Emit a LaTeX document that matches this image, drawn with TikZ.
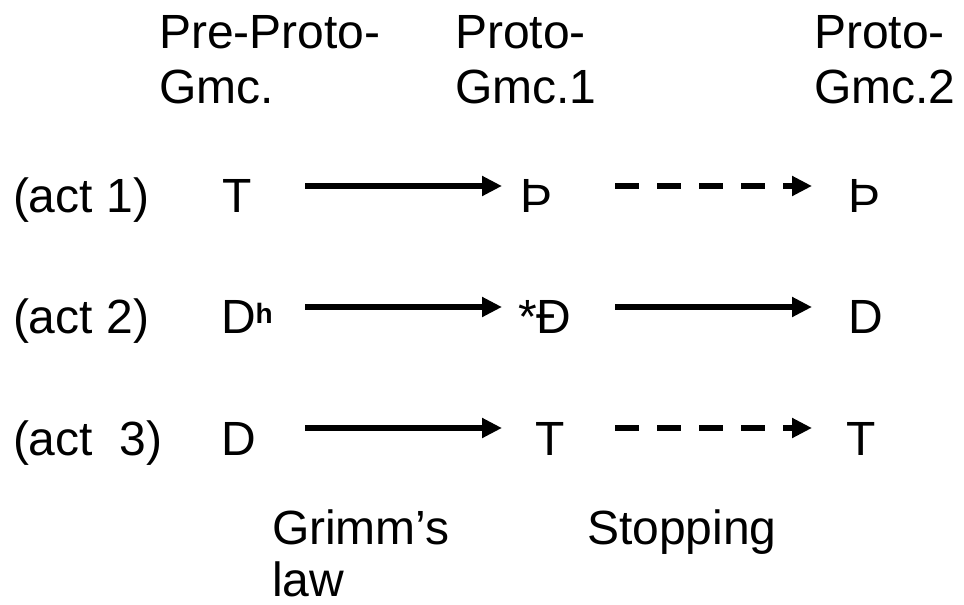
\documentclass[tikz,border=0pt]{standalone}
\usepackage{fontspec}
\setmainfont{Liberation Sans}
\usetikzlibrary{arrows.meta}
\begin{document}
\begin{tikzpicture}[x=1pt,y=-1pt,
  lbl/.style={anchor=base west,inner sep=0pt,outer sep=0pt,font=\fontsize{48}{55}\selectfont},
  arr/.style={line width=6.5pt,-{Triangle[length=20pt,width=19pt]}},
  darr/.style={arr,dash pattern=on 24pt off 18pt}]
\useasboundingbox[fill=white] (0,0) rectangle (964,605);
% headers
\node[lbl] (h1a) at (159,48) {Pre-Proto-};
\node[lbl] (h1b) at (159,103) {Gmc.};
\node[lbl] (h2a) at (455,48) {Proto-};
\node[lbl] (h2b) at (455,103) {Gmc.1};
\node[lbl] (h3a) at (814,48) {Proto-};
\node[lbl] (h3b) at (814,103) {Gmc.2};
% row labels
\node[lbl] (act1) at (13,212) {(act 1)};
\node[lbl] (act2) at (13,333) {(act 2)};
\node[lbl] (act3) at (13,455) {(act\ \ 3)};
% column 1
\node[lbl] (a1) at (222,212) {T};
\node[lbl] (a2) at (221,333) {D\raisebox{10pt}{\fontsize{28}{28}\selectfont\bfseries h}};
\node[lbl] (a3) at (221,455) {D};
% column 2
\node[lbl] (b1) at (520,212) {Þ};
\node[lbl] (b2) at (518,333) {*Đ};
\node[lbl] (b3) at (535,455) {T};
% column 3
\node[lbl] (c1) at (848,212) {Þ};
\node[lbl] (c2) at (848,333) {D};
\node[lbl] (c3) at (846,455) {T};
% bottom labels
\node[lbl] (g1) at (272,544) {Grimm’s};
\node[lbl,text depth=0pt] (g2) at (272,596) {law};
\node[lbl] (s1) at (587,544) {Stopping};
% arrow ends
\coordinate (a1s) at (305,186); \coordinate (a1e) at (502,186);
\coordinate (a2s) at (305,307); \coordinate (a2e) at (502,307);
\coordinate (a3s) at (305,428); \coordinate (a3e) at (502,428);
\coordinate (b1s) at (615,186); \coordinate (b1e) at (812,186);
\coordinate (b2s) at (615,307); \coordinate (b2e) at (812,307);
\coordinate (b3s) at (615,428); \coordinate (b3e) at (812,428);
\draw[arr] (a1s) -- (a1e);
\draw[arr] (a2s) -- (a2e);
\draw[arr] (a3s) -- (a3e);
\draw[darr] (b1s) -- (b1e);
\draw[arr] (b2s) -- (b2e);
\draw[darr] (b3s) -- (b3e);
\end{tikzpicture}
\end{document}
